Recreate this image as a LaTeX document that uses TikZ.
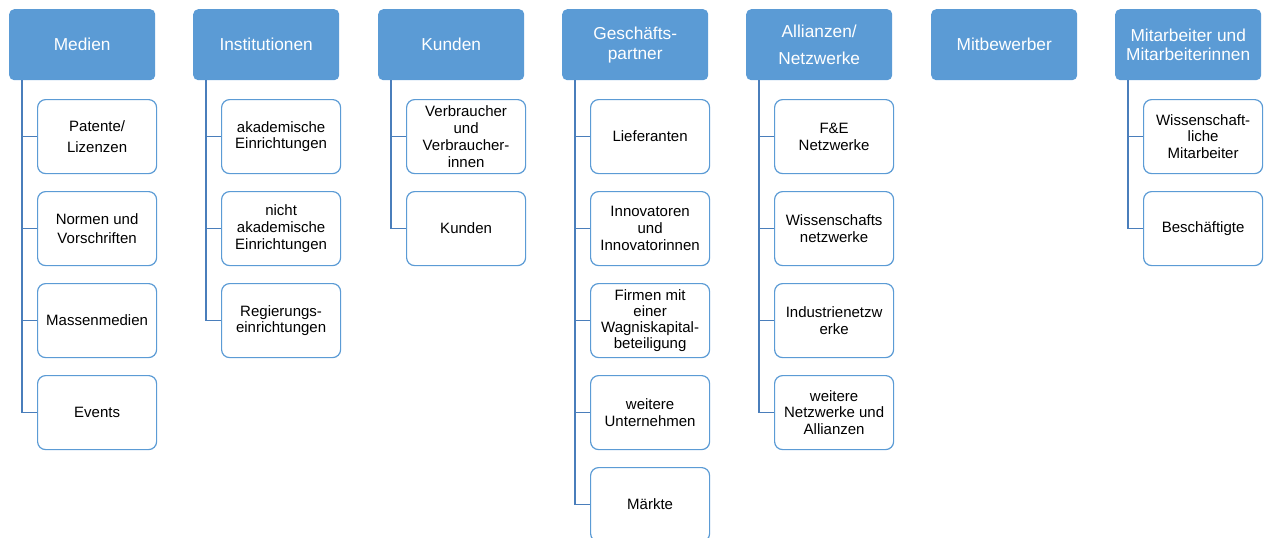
\documentclass[tikz,border=0pt]{standalone}
\usepackage{fontspec}
\setmainfont{Liberation Sans}
\definecolor{headfill}{HTML}{5B9BD5}
\definecolor{linkblue}{HTML}{4A7EBB}
\begin{document}
\begin{tikzpicture}[x=1pt,y=-1pt,
  headbox/.style={draw=none, fill=headfill, rounded corners=5pt, text=white,
    minimum width=146pt, minimum height=71pt, anchor=north west, align=center,
    inner sep=0pt, font=\fontsize{17.3}{20}\selectfont},
  childbox/.style={draw=headfill, line width=1.2pt, fill=white, rounded corners=8pt,
    text=black, minimum width=119pt, minimum height=74pt, anchor=north west,
    align=center, inner sep=0pt, font=\fontsize{15}{16.8}\selectfont},
  conn/.style={draw=linkblue, line width=1.5pt}]
\useasboundingbox (0,0) rectangle (1264,538);

% column headers
\node[headbox] (h1) at (9,9) {Medien};
\node[headbox] (h2) at (193,9) {Institutionen};
\node[headbox] (h3) at (378,9) {Kunden};
\node[headbox, font=\fontsize{17.3}{20}\selectfont] (h4) at (562,9) {Geschäfts-\\partner};
\node[headbox, font=\fontsize{17.3}{26.5}\selectfont] (h5) at (746,9) {Allianzen/\\Netzwerke};
\node[headbox] (h6) at (931,9) {Mitbewerber};
\node[headbox, font=\fontsize{17.3}{18.5}\selectfont] (h7) at (1115,9) {Mitarbeiter und\\Mitarbeiterinnen};

% Medien
\node[childbox, font=\fontsize{15}{21.5}\selectfont] (m1) at (37,99) {Patente/\\Lizenzen};
\node[childbox, font=\fontsize{15}{19}\selectfont] (m2) at (37,191) {Normen und\\Vorschriften};
\node[childbox] (m3) at (37,283) {Massenmedien};
\node[childbox] (m4) at (37,375) {Events};
\foreach \c in {m1,m2,m3,m4}
  \draw[conn] ([xshift=13pt]h1.south west) |- (\c.west);

% Institutionen
\node[childbox] (i1) at (221,99) {akademische\\Einrichtungen};
\node[childbox] (i2) at (221,191) {nicht\\akademische\\Einrichtungen};
\node[childbox] (i3) at (221,283) {Regierungs-\\einrichtungen};
\foreach \c in {i1,i2,i3}
  \draw[conn] ([xshift=13pt]h2.south west) |- (\c.west);

% Kunden
\node[childbox] (k1) at (406,99) {Verbraucher\\und\\Verbraucher-\\innen};
\node[childbox] (k2) at (406,191) {Kunden};
\foreach \c in {k1,k2}
  \draw[conn] ([xshift=13pt]h3.south west) |- (\c.west);

% Geschaeftspartner
\node[childbox] (g1) at (590,99) {Lieferanten};
\node[childbox] (g2) at (590,191) {Innovatoren\\und\\Innovatorinnen};
\node[childbox, font=\fontsize{15}{15.7}\selectfont] (g3) at (590,283) {Firmen mit\\einer\\Wagniskapital-\\beteiligung};
\node[childbox] (g4) at (590,375) {weitere\\Unternehmen};
\node[childbox] (g5) at (590,467) {Märkte};
\foreach \c in {g1,g2,g3,g4,g5}
  \draw[conn] ([xshift=13pt]h4.south west) |- (\c.west);

% Allianzen / Netzwerke
\node[childbox] (a1) at (774,99) {F\&E\\Netzwerke};
\node[childbox] (a2) at (774,191) {Wissenschafts\\netzwerke};
\node[childbox] (a3) at (774,283) {Industrienetzw\\erke};
\node[childbox] (a4) at (774,375) {weitere\\Netzwerke und\\Allianzen};
\foreach \c in {a1,a2,a3,a4}
  \draw[conn] ([xshift=13pt]h5.south west) |- (\c.west);

% Mitarbeiter
\node[childbox] (p1) at (1143,99) {Wissenschaft-\\liche\\Mitarbeiter};
\node[childbox] (p2) at (1143,191) {Beschäftigte};
\foreach \c in {p1,p2}
  \draw[conn] ([xshift=13pt]h7.south west) |- (\c.west);
\end{tikzpicture}
\end{document}
